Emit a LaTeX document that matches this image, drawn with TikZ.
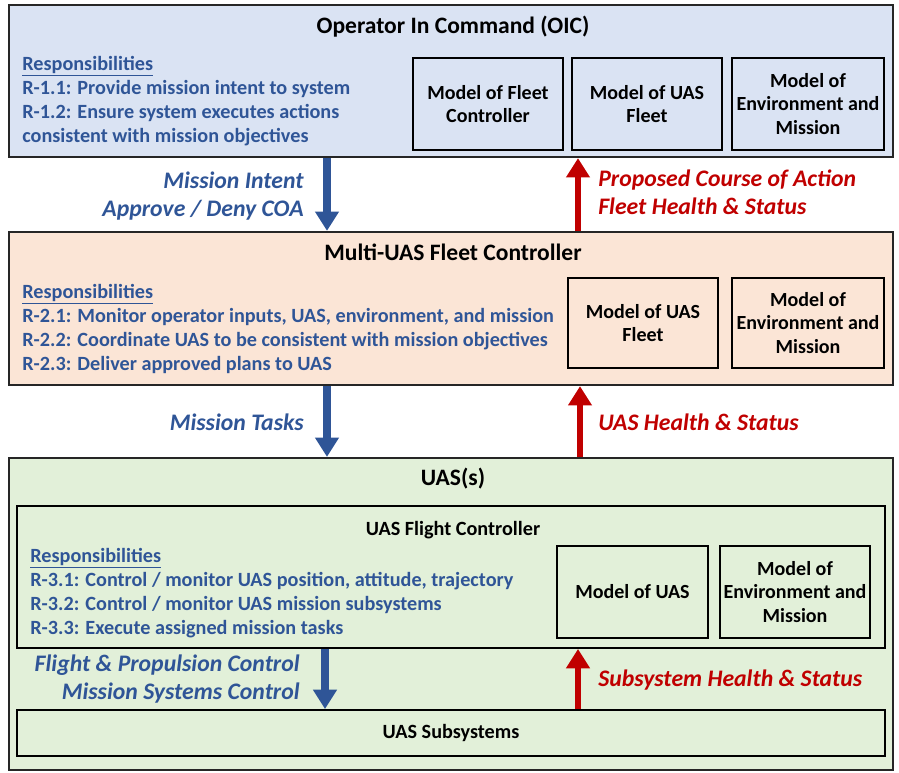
\documentclass[tikz,border=0pt]{standalone}
\usepackage{fontspec}
\setmainfont{Carlito}
\usetikzlibrary{arrows.meta,positioning}
\definecolor{oicblue}{RGB}{218,227,243}
\definecolor{fcpeach}{RGB}{251,229,214}
\definecolor{uasgreen}{RGB}{226,240,217}
\definecolor{respblue}{RGB}{47,85,151}
\definecolor{flowred}{RGB}{192,0,0}

\begin{document}
\begin{tikzpicture}[x=0.02cm,y=-0.02cm,
  layerbox/.style={draw=black!85, line width=1.3pt, inner sep=0pt},
  innerbox/.style={draw=black, line width=1.1pt, inner sep=0pt},
  modelbox/.style={draw=black, line width=1.1pt, inner sep=0pt, minimum width=3cm,
    minimum height=1.84cm, align=center, font=\fontsize{11.4}{13.6}\selectfont\bfseries},
  boxtitle/.style={anchor=base, inner sep=0pt, font=\fontsize{13.4}{15}\selectfont\bfseries},
  resp/.style={anchor=base west, inner sep=0pt, text=respblue, font=\fontsize{11.5}{13}\selectfont\bfseries},
  downflow/.style={draw=respblue, line width=4pt, -{Triangle[width=13pt,length=11pt]}},
  upflow/.style={draw=flowred, line width=3.6pt, -{Triangle[width=13pt,length=11pt]}},
  downlabel/.style={anchor=base east, inner sep=0pt, text=respblue, font=\fontsize{13.5}{15}\selectfont\bfseries\itshape},
  uplabel/.style={anchor=base west, inner sep=0pt, text=flowred, font=\fontsize{13.5}{15}\selectfont\bfseries\itshape}
]
\useasboundingbox (0,0) rectangle (899,772);

% Operator in command
\node[layerbox, fill=oicblue, minimum width=17.68cm, minimum height=3.04cm] (oic) at (451,81) {};
\node[boxtitle] (oictitle) at (453,33) {Operator In Command (OIC)};
\node[resp] (oicresp) at (22,70) {\underline{Responsibilities}};
\node[resp] (r11) at (22,94) {R-1.1: Provide mission intent to system};
\node[resp] (r12) at (22,118) {R-1.2: Ensure system executes actions};
\node[resp] (r12b) at (22,142) {consistent with mission objectives};
\node[modelbox] (oicfleetctl) at (488,104) {Model of Fleet\\Controller};
\node[modelbox] (oicfleet) at (647,104) {Model of UAS\\Fleet};
\node[modelbox, minimum width=3.04cm] (oicenv) at (808,104) {Model of\\Environment and\\Mission};

% Multi-UAS fleet controller
\node[layerbox, fill=fcpeach, minimum width=17.68cm, minimum height=3.06cm] (fc) at (451,308.5) {};
\node[boxtitle] (fctitle) at (453,260) {Multi-UAS Fleet Controller};
\node[resp] (fcresp) at (22,298) {\underline{Responsibilities}};
\node[resp] (r21) at (22,322) {R-2.1: Monitor operator inputs, UAS, environment, and mission};
\node[resp] (r22) at (22,346) {R-2.2: Coordinate UAS to be consistent with mission objectives};
\node[resp] (r23) at (22,370) {R-2.3: Deliver approved plans to UAS};
\node[modelbox, minimum height=1.8cm] (fcfleet) at (643,323) {Model of UAS\\Fleet};
\node[modelbox, minimum width=3.04cm, minimum height=1.8cm] (fcenv) at (808,323) {Model of\\Environment and\\Mission};

% UAS(s)
\node[layerbox, fill=uasgreen, minimum width=17.68cm, minimum height=6.24cm] (uas) at (451,614) {};
\node[boxtitle] (uastitle) at (453,485) {UAS(s)};
\node[innerbox, minimum width=17.36cm, minimum height=2.84cm] (flightctl) at (451,577) {};
\node[boxtitle, font=\fontsize{11.5}{13}\selectfont\bfseries] (flighttitle) at (453,535) {UAS Flight Controller};
\node[resp] (uasresp) at (30,562) {\underline{Responsibilities}};
\node[resp] (r31) at (30,586) {R-3.1: Control / monitor UAS position, attitude, trajectory};
\node[resp] (r32) at (30,610) {R-3.2: Control / monitor UAS mission subsystems};
\node[resp] (r33) at (30,634) {R-3.3: Execute assigned mission tasks};
\node[modelbox, minimum width=3.02cm] (uasmodel) at (632.5,592) {Model of UAS};
\node[modelbox] (uasenv) at (795,592) {Model of\\Environment and\\Mission};
\node[innerbox, minimum width=17.36cm, minimum height=0.92cm,
  font=\fontsize{11.5}{13}\selectfont\bfseries] (subsys) at (451,733) {UAS Subsystems};

% Flows
\coordinate (downA) at (327,0);
\coordinate (upA) at (578,0);
\coordinate (downB) at (327,0);
\coordinate (upB) at (580,0);
\coordinate (downC) at (325,0);
\coordinate (upC) at (578,0);
\draw[downflow] (oic.south -| downA) -- (fc.north -| downA);
\draw[upflow] (fc.north -| upA) -- (oic.south -| upA);
\draw[downflow] (fc.south -| downB) -- (uas.north -| downB);
\draw[upflow] (uas.north -| upB) -- (fc.south -| upB);
\draw[downflow] (flightctl.south -| downC) -- (subsys.north -| downC);
\draw[upflow] (subsys.north -| upC) -- (flightctl.south -| upC);

\node[downlabel] (intent) at (304,188) {Mission Intent};
\node[downlabel] (approve) at (304,216) {Approve / Deny COA};
\node[uplabel] (coa) at (598,186) {Proposed Course of Action};
\node[uplabel] (fleethealth) at (598,214) {Fleet Health \& Status};
\node[downlabel] (tasks) at (304,430) {Mission Tasks};
\node[uplabel] (uashealth) at (598,430) {UAS Health \& Status};
\node[downlabel] (propulsion) at (300,671) {Flight \& Propulsion Control};
\node[downlabel] (missionsys) at (300,699) {Mission Systems Control};
\node[uplabel] (subhealth) at (598,686) {Subsystem Health \& Status};
\end{tikzpicture}
\end{document}
